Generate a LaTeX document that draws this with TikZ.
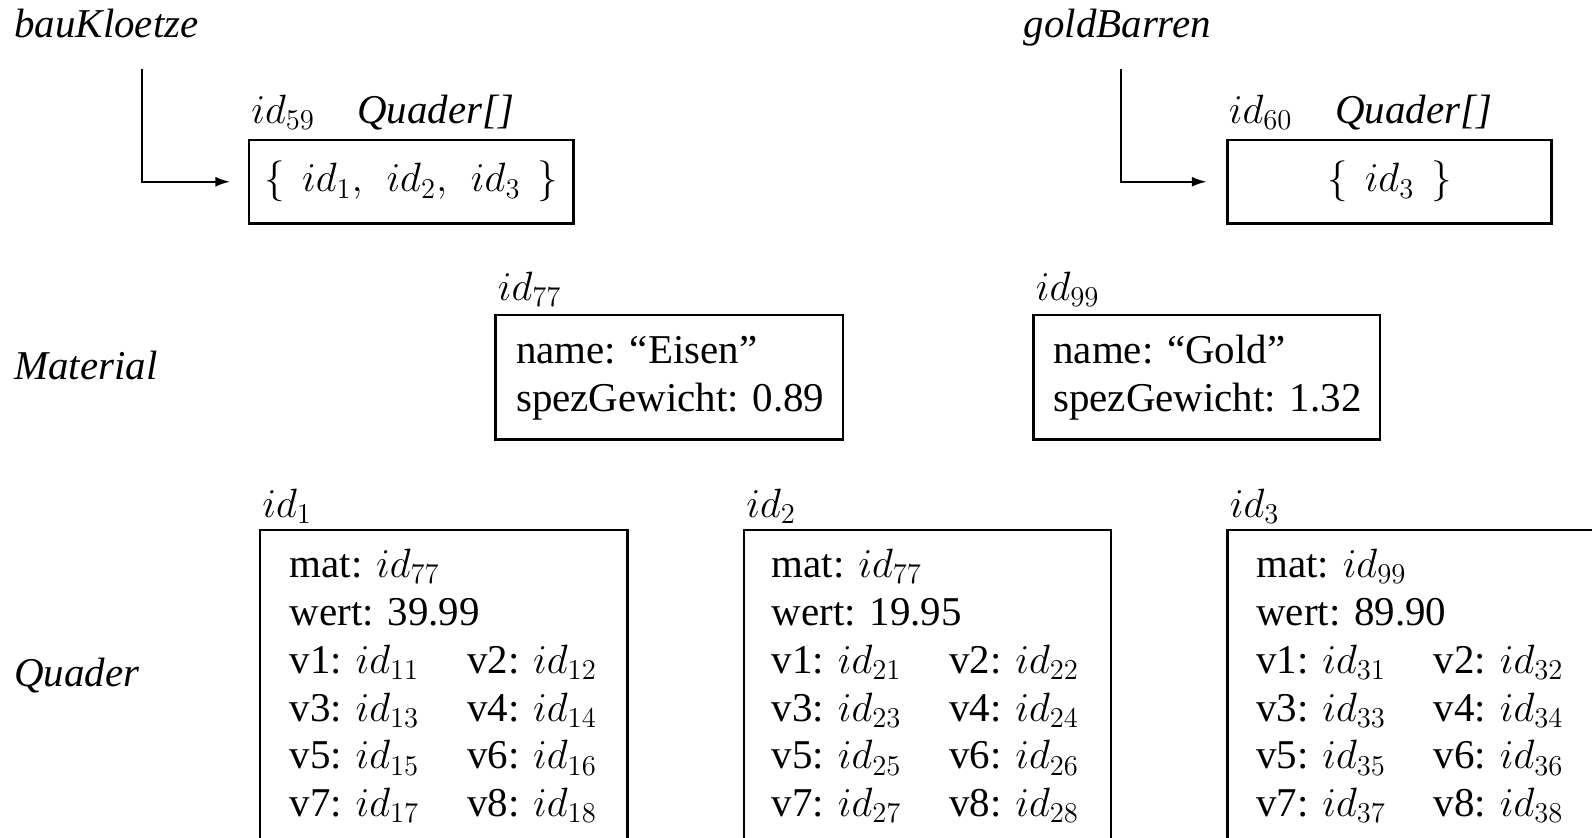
\RequirePackage{fix-cm}
\documentclass[tikz,border=0pt]{standalone}
\usepackage[no-math]{fontspec}
\setmainfont{Liberation Serif}
\usetikzlibrary{arrows.meta,fit,calc}
\newcommand{\wide}[1]{\multicolumn{2}{@{}l@{}}{#1}}
\newcommand{\gapsp}{\ \,}
\begin{document}
\begin{tikzpicture}[x=0.2mm,y=-0.2mm,
  txt/.style={font=\fontsize{23.3}{27.2}\selectfont, inner sep=0, anchor=base west},
  ctxt/.style={font=\fontsize{23.3}{27.2}\selectfont, inner sep=0, anchor=center},
  itxt/.style={font=\fontsize{23.3}{27.2}\selectfont\itshape, inner sep=0, anchor=base west},
  objbox/.style={draw, line width=1.3pt, inner sep=0},
  ref/.style={line width=1.3pt, -{Latex[length=3mm,width=2mm]}}]
\useasboundingbox (0,0) rectangle (1592,838);
\clip (0,0) rectangle (1592,838);
% top-left variable and array
\node[itxt] (bk) at (14,37.6) {bauKloetze};
\node[objbox, fit={(249,140.1) (573.6,223.4)}] (b59) {};
\node[ctxt] (b59t) at (b59.center) {$\{\gapsp id_1,\gapsp id_2,\gapsp id_3\gapsp \}$};
\node[txt] (l59) at (251,123) {$id_{59}$};
\node[itxt] (t59) at (357,123) {Quader[]};
\coordinate (s1) at (142,69);
\draw[ref, shorten >=3.5mm] (s1) |- (b59.west);
% top-right variable and array
\node[itxt] (gb) at (1023.4,37.6) {goldBarren};
\node[objbox, fit={(1227.5,140.1) (1551.4,223.4)}] (b60) {};
\node[ctxt] (b60t) at (b60.center) {$\{\gapsp id_3\gapsp \}$};
\node[txt] (l60) at (1228.5,123) {$id_{60}$};
\node[itxt] (t60) at (1335,123) {Quader[]};
\coordinate (s2) at (1121,69);
\draw[ref, shorten >=3.9mm] (s2) |- (b60.west);
% Material
\node[itxt] (mat) at (14,379) {Material};
\node[objbox, fit={(495.5,314.7) (842.7,439.6)}] (m77) {};
\node[txt] (l77) at (497.5,300.5) {$id_{77}$};
\node[txt] (m77t) at (515.8,363.5) {\begin{tabular}[t]{@{}l@{}}name: ``Eisen''\\ spezGewicht: 0.89\end{tabular}};
\node[objbox, fit={(1033.6,314.7) (1379.8,439.6)}] (m99) {};
\node[txt] (l99) at (1035.6,300.5) {$id_{99}$};
\node[txt] (m99t) at (1053,363.5) {\begin{tabular}[t]{@{}l@{}}name: ``Gold''\\ spezGewicht: 1.32\end{tabular}};
% Quader
\node[itxt] (qd) at (14,686) {Quader};
\node[objbox, fit={(260,530) (627.5,900)}] (q1) {};
\node[txt] (lq1) at (262,517) {$id_1$};
\node[txt] (q1t) at (289.4,577.7) {\begin{tabular}[t]{@{}p{35.5mm}@{}l@{}}
\wide{mat: $id_{77}$}\\ \wide{wert: 39.99}\\
v1: $id_{11}$ & v2: $id_{12}$\\ v3: $id_{13}$ & v4: $id_{14}$\\
v5: $id_{15}$ & v6: $id_{16}$\\ v7: $id_{17}$ & v8: $id_{18}$\end{tabular}};
\node[objbox, fit={(744.2,530) (1110.7,900)}] (q2) {};
\node[txt] (lq2) at (746,517) {$id_2$};
\node[txt] (q2t) at (771.6,577.7) {\begin{tabular}[t]{@{}p{35.5mm}@{}l@{}}
\wide{mat: $id_{77}$}\\ \wide{wert: 19.95}\\
v1: $id_{21}$ & v2: $id_{22}$\\ v3: $id_{23}$ & v4: $id_{24}$\\
v5: $id_{25}$ & v6: $id_{26}$\\ v7: $id_{27}$ & v8: $id_{28}$\end{tabular}};
\node[objbox, fit={(1227.5,530) (1700,900)}] (q3) {};
\node[txt] (lq3) at (1229.5,517) {$id_3$};
\node[txt] (q3t) at (1256,577.7) {\begin{tabular}[t]{@{}p{35.5mm}@{}l@{}}
\wide{mat: $id_{99}$}\\ \wide{wert: 89.90}\\
v1: $id_{31}$ & v2: $id_{32}$\\ v3: $id_{33}$ & v4: $id_{34}$\\
v5: $id_{35}$ & v6: $id_{36}$\\ v7: $id_{37}$ & v8: $id_{38}$\end{tabular}};
\end{tikzpicture}
\end{document}
